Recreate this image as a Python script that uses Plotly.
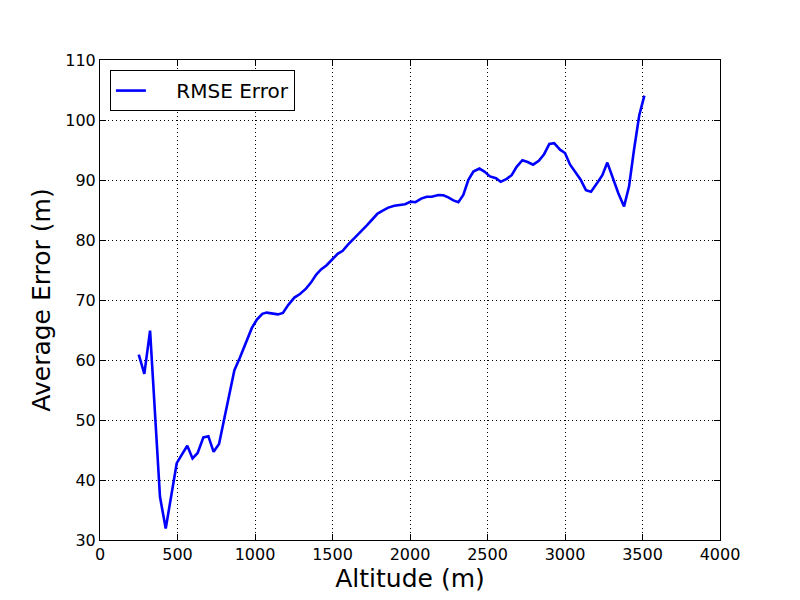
import plotly.graph_objects as go

altitude = [250, 286, 323, 387, 424, 462, 495, 527, 563, 597, 630, 667, 699, 733, 768, 800, 834, 867, 903, 942,
            979, 1011, 1047, 1075, 1114, 1148, 1180, 1215, 1254, 1290, 1329, 1361, 1394, 1426, 1462, 1505, 1533,
            1566, 1598, 1641, 1684, 1720, 1759, 1791, 1824, 1860, 1899, 1935, 1968, 2005, 2035, 2072, 2108, 2140,
            2183, 2215, 2247, 2280, 2312, 2344, 2376, 2409, 2448, 2480, 2516, 2555, 2585, 2624, 2656, 2688, 2725,
            2759, 2794, 2831, 2865, 2899, 2930, 2968, 3000, 3032, 3067, 3100, 3135, 3168, 3205, 3241, 3273, 3305,
            3344, 3381, 3413, 3445, 3479, 3512]
rmse = [60.9, 57.7, 64.9, 37.2, 31.9, 37.8, 42.8, 44.2, 45.7, 43.6, 44.5, 47.1, 47.3, 44.7, 46.0, 50.0, 54.4, 58.3,
        60.4, 62.8, 65.3, 66.7, 67.7, 67.9, 67.7, 67.6, 67.85, 69.2, 70.4, 71.0, 71.9, 72.9, 74.2, 75.1, 75.8, 76.9,
        77.7, 78.2, 79.2, 80.3, 81.4, 82.4, 83.5, 84.4, 84.9, 85.4, 85.7, 85.85, 85.95, 86.4, 86.3, 86.9, 87.2, 87.2,
        87.5, 87.45, 87.1, 86.6, 86.3, 87.5, 90.0, 91.4, 91.9, 91.4, 90.6, 90.3, 89.7, 90.2, 90.8, 92.2, 93.3, 93.0,
        92.55, 93.2, 94.3, 96.0, 96.15, 95.05, 94.5, 92.6, 91.2, 90.1, 88.3, 88.05, 89.4, 90.8, 92.9, 90.55, 87.8,
        85.6, 88.9, 95.0, 100.8, 104.05]

x_ticks = [0, 500, 1000, 1500, 2000, 2500, 3000, 3500, 4000]
y_ticks = [30, 40, 50, 60, 70, 80, 90, 100, 110]

fig = go.Figure()
fig.add_trace(go.Scatter(x=altitude, y=rmse, mode="lines", name="\u00a0\u00a0\u00a0\u00a0RMSE Error",
                         line=dict(color="#0000ff", width=2.6)))

axis_common = dict(showline=True, linecolor="black", linewidth=1, mirror="ticks",
                   ticks="inside", ticklen=6, tickcolor="black", showgrid=True,
                   gridcolor="black", griddash="1px,3px", gridwidth=1, zeroline=False,
                   automargin=False,
                   tickfont=dict(family="DejaVu Sans", size=16, color="black"))

fig.update_xaxes(range=[0, 4000], tickvals=x_ticks,
                 title=dict(text="Altitude (m)", font=dict(family="DejaVu Sans", size=25, color="black"), standoff=4),
                 **axis_common)
fig.update_yaxes(range=[30, 110], tickvals=y_ticks,
                 title=dict(text="Average Error (m)", font=dict(family="DejaVu Sans", size=25, color="black"), standoff=7),
                 **axis_common)

fig.update_layout(width=800, height=600, margin=dict(l=92, r=88, t=52, b=68),
                  plot_bgcolor="white", paper_bgcolor="white",
                  font=dict(family="DejaVu Sans", color="black"),
                  showlegend=True,
                  legend=dict(x=0.016, y=0.979, xanchor="left", yanchor="top",
                              bordercolor="black", borderwidth=1, bgcolor="white",
                              font=dict(family="DejaVu Sans", size=20, color="black")))

fig.write_html("out.html")
